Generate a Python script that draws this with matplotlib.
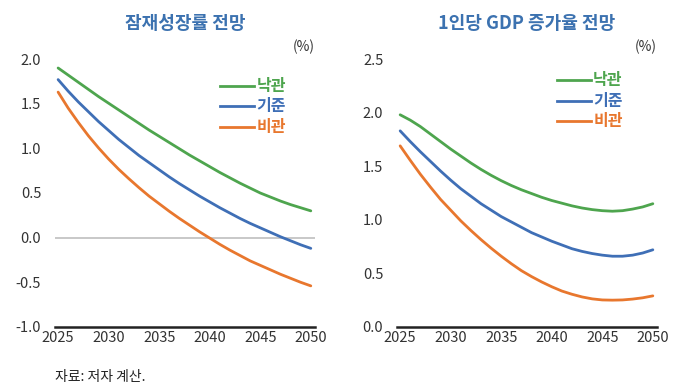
import numpy as np
import matplotlib
matplotlib.use('Agg')
import matplotlib.pyplot as plt

plt.rcParams['font.family'] = ['Noto Sans CJK KR', 'DejaVu Sans']

years = list(range(2025, 2051))

# 잠재성장률 전망 (%)
pot_opt = [1.90, 1.82, 1.74, 1.66, 1.58, 1.505, 1.43, 1.355, 1.28, 1.205,
           1.135, 1.065, 0.995, 0.925, 0.86, 0.795, 0.73, 0.67, 0.61, 0.555,
           0.50, 0.455, 0.41, 0.37, 0.335, 0.30]
pot_base = [1.77, 1.64, 1.52, 1.41, 1.30, 1.20, 1.10, 1.01, 0.92, 0.84,
            0.76, 0.68, 0.605, 0.535, 0.465, 0.40, 0.335, 0.275, 0.215, 0.16,
            0.11, 0.06, 0.01, -0.035, -0.08, -0.12]
pot_pes = [1.63, 1.45, 1.29, 1.14, 1.005, 0.88, 0.765, 0.66, 0.56, 0.465,
           0.38, 0.295, 0.215, 0.14, 0.065, -0.005, -0.075, -0.14, -0.20, -0.26,
           -0.31, -0.36, -0.41, -0.455, -0.50, -0.54]

# 1인당 GDP 증가율 전망 (%)
gdp_opt = [1.98, 1.93, 1.87, 1.80, 1.73, 1.66, 1.595, 1.53, 1.47, 1.415,
           1.365, 1.32, 1.28, 1.245, 1.21, 1.18, 1.155, 1.13, 1.11, 1.095,
           1.085, 1.08, 1.085, 1.10, 1.12, 1.15]
gdp_base = [1.83, 1.73, 1.635, 1.545, 1.455, 1.37, 1.29, 1.22, 1.15, 1.09,
            1.03, 0.98, 0.93, 0.88, 0.84, 0.80, 0.765, 0.73, 0.705, 0.685,
            0.67, 0.66, 0.66, 0.67, 0.69, 0.72]
gdp_pes = [1.69, 1.555, 1.425, 1.305, 1.19, 1.09, 0.99, 0.90, 0.815, 0.735,
           0.66, 0.59, 0.525, 0.47, 0.42, 0.375, 0.335, 0.305, 0.28, 0.262,
           0.252, 0.25, 0.252, 0.26, 0.272, 0.29]

labels = ['낙관', '기준', '비관']
colors = ['#4EA54E', '#3F6FB6', '#E8772E']
title_color = '#3C72B0'
xticks = [2025, 2030, 2035, 2040, 2045, 2050]

fig = plt.figure(figsize=(6.8, 3.86), dpi=100)

def draw_panel(rect, series, ylim, yticks, title, leg_xy, zero_line=False):
    ax = fig.add_axes(rect)
    if zero_line:
        ax.axhline(0, color='#BFBFBF', lw=1.2, zorder=1)
    for s, c in zip(series, colors):
        ax.plot(years, s, color=c, lw=2.0, zorder=3,
                solid_capstyle='round', solid_joinstyle='round')
    ax.set_xlim(2024.7, 2050.4)
    ax.set_ylim(*ylim)
    ax.set_xticks(xticks)
    ax.set_yticks(yticks)
    ax.set_yticklabels(['%.1f' % v for v in yticks])
    for sp in ['top', 'right', 'left']:
        ax.spines[sp].set_visible(False)
    ax.spines['bottom'].set_linewidth(1.8)
    ax.spines['bottom'].set_color('#222222')
    ax.tick_params(axis='both', length=0, labelsize=10.5, colors='#333333')
    ax.tick_params(axis='x', pad=3)
    ax.tick_params(axis='y', pad=10)
    ax.set_title(title, color=title_color, fontsize=13, fontweight='bold', pad=22)
    ax.text(1.0, 1.045, '(%)', transform=ax.transAxes, ha='right', va='center',
            fontsize=10, color='#333333')
    lx, ly = leg_xy
    for i, (lab, c) in enumerate(zip(labels, colors)):
        yy = ly - i * 0.076
        ax.plot([lx, lx + 0.13], [yy, yy], transform=ax.transAxes, color=c,
                lw=2.0, clip_on=False)
        ax.text(lx + 0.14, yy, lab, transform=ax.transAxes, color=c,
                fontsize=11.5, fontweight='bold', va='center', ha='left')
    return ax

draw_panel([0.081, 0.153, 0.382, 0.694], [pot_opt, pot_base, pot_pes],
           (-1.0, 2.0), [-1.0, -0.5, 0.0, 0.5, 1.0, 1.5, 2.0],
           '잠재성장률 전망', (0.635, 0.90), zero_line=True)
draw_panel([0.584, 0.153, 0.382, 0.694], [gdp_opt, gdp_base, gdp_pes],
           (0.0, 2.5), [0.0, 0.5, 1.0, 1.5, 2.0, 2.5],
           '1인당 GDP 증가율 전망', (0.615, 0.92))

fig.text(0.081, 0.005, '자료: 저자 계산.', fontsize=10, color='#222222', ha='left', va='bottom')

fig.savefig('out.png', dpi=100)
